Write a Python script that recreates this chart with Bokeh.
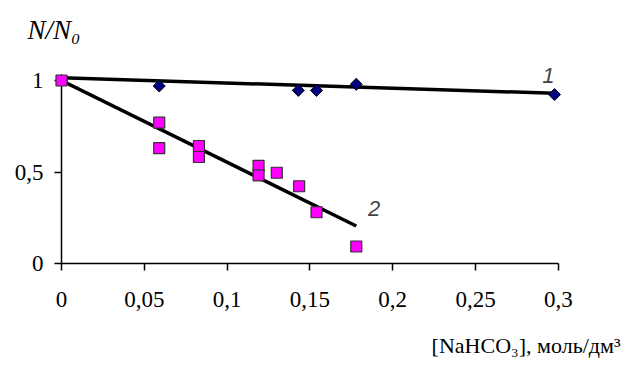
from bokeh.plotting import figure
from bokeh.models import Range1d, FixedTicker, Label, LinearAxis, Title
from bokeh.embed import file_html
from bokeh.resources import INLINE

# ---- data ----
x_ticks = [0, 0.05, 0.1, 0.15, 0.2, 0.25, 0.3]
x_tick_labels = ["0", "0,05", "0,1", "0,15", "0,2", "0,25", "0,3"]
y_ticks = [0, 0.5, 1]
y_tick_labels = ["0", "0,5", "1"]

s1_x = [0.0, 0.059, 0.143, 0.154, 0.178, 0.2977]
s1_y = [1.0, 0.970, 0.946, 0.946, 0.979, 0.923]
s2_x = [0.0, 0.059, 0.059, 0.083, 0.083, 0.119, 0.119, 0.130, 0.1435, 0.154, 0.178]
s2_y = [1.0, 0.77, 0.63, 0.642, 0.582, 0.533, 0.482, 0.496, 0.422, 0.28, 0.093]
fit1_x = [0.0, 0.2977]
fit1_y = [1.015, 0.930]
fit2_x = [0.0, 0.178]
fit2_y = [1.0, 0.205]

# ---- layout ----
W, H = 625, 367
L, T = 61, 45
R_B = 5
B = H - 263
PX_X = 1656.0
PX_Y = 183.0
frame_w = W - L - R_B
frame_h = H - T - B
x1 = frame_w / PX_X
y1 = frame_h / PX_Y

p = figure(width=W, height=H, output_backend="svg", toolbar_location=None,
           x_range=Range1d(0, x1), y_range=Range1d(0, y1),
           min_border_left=L, min_border_right=R_B, min_border_top=T, min_border_bottom=B,
           x_axis_location=None, y_axis_location=None)
p.outline_line_color = None
p.grid.visible = False
p.background_fill_color = "white"

serif = "Liberation Serif"

xa = LinearAxis(ticker=FixedTicker(ticks=x_ticks), bounds=(0, 0.3))
xa.major_label_overrides = {t: l for t, l in zip(x_ticks, x_tick_labels)}
yax = LinearAxis(ticker=FixedTicker(ticks=y_ticks), bounds=(0, 1))
yax.major_label_overrides = {t: l for t, l in zip(y_ticks, y_tick_labels)}
for ax in (xa, yax):
    ax.axis_line_color = "black"
    ax.axis_line_width = 1.5
    ax.major_tick_line_color = "black"
    ax.major_tick_line_width = 1.5
    ax.major_tick_out = 7
    ax.major_tick_in = 0
    ax.minor_tick_line_color = None
    ax.major_label_text_font = serif
    ax.major_label_text_font_size = "23px"
    ax.major_label_text_color = "black"
xa.major_label_standoff = 21
yax.major_label_standoff = 11
p.add_layout(xa, "below")
p.add_layout(yax, "left")

# axis titles
p.add_layout(Title(text="N/N₀", text_font=serif, text_font_style="italic",
                   text_font_size="27px", align="left", offset=-34, standoff=1,
                   text_color="black"), "above")
p.add_layout(Title(text="\n[NaHCO₃], моль/дм³", text_font=serif, text_font_style="normal",
                   text_font_size="22px", align="right", offset=0, standoff=0,
                   text_line_height=0.85, text_color="black"), "below")

# fit lines
p.line(fit1_x, fit1_y, line_color="black", line_width=3.5)
p.line(fit2_x, fit2_y, line_color="black", line_width=3.5)

# markers
p.scatter(s1_x, s1_y, marker="square", angle=0.785398, size=8.5,
          fill_color="#000080", line_color="black", line_width=1, level="overlay")
p.scatter(s2_x, s2_y, marker="square", size=11,
          fill_color="#FF00FF", line_color="#333333", line_width=1.2, level="overlay")

# series labels
p.add_layout(Label(x=0.294, y=1.027, text="1", text_font="Liberation Sans",
                   text_font_style="italic", text_font_size="22px",
                   text_align="center", text_baseline="middle"))
p.add_layout(Label(x=0.1888, y=0.30, text="2", text_font="Liberation Sans",
                   text_font_style="italic", text_font_size="22px",
                   text_align="center", text_baseline="middle"))

open("out.html", "w").write(file_html(p, INLINE))
